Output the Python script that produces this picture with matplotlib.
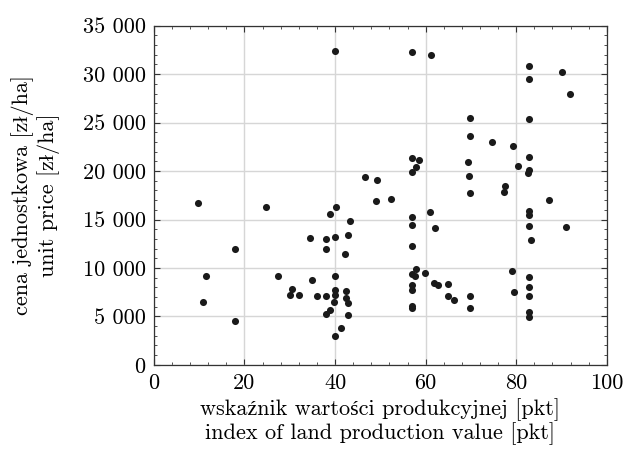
import matplotlib
matplotlib.use('Agg')
import matplotlib.pyplot as plt
from matplotlib.ticker import MultipleLocator, FuncFormatter

plt.rcParams['font.family'] = ['cmr10', 'Liberation Serif']
plt.rcParams['mathtext.fontset'] = 'cm'
plt.rcParams['axes.formatter.use_mathtext'] = True

# wskaźnik wartości produkcyjnej [pkt]
wskaznik = [40.0, 46.6, 49.3, 57.0, 61.1, 82.9, 90.1, 82.9, 91.9, 69.8,
            82.9, 69.8, 74.6, 79.2, 57.0, 58.5, 82.9, 69.4, 80.3, 57.9,
            57.0, 82.9, 82.5, 69.5, 77.5, 77.2, 69.8, 49.1, 52.3, 87.3,
            82.9, 82.9, 60.9, 57.0, 57.0, 62.0, 82.9, 90.9, 83.2, 57.0,
            57.9, 59.9, 57.0, 57.6, 79.0, 82.9, 61.9, 62.7, 65.0, 57.0,
            57.0, 82.9, 79.5, 65.0, 66.3, 69.8, 82.9, 57.0, 57.0, 69.8,
            82.9, 82.9, 9.8, 24.7, 40.2, 38.9, 43.2, 34.4, 38.0, 40.0,
            42.9, 38.0, 17.9, 42.3, 11.5, 27.4, 40.0, 34.9, 30.5, 30.0,
            32.1, 36.1, 38.0, 40.0, 40.0, 42.5, 42.5, 42.9, 39.7, 10.9,
            38.0, 38.9, 42.9, 17.9, 41.3, 40.0]

# cena jednostkowa [zł/ha]
cena = [32400, 19360, 19080, 32290, 31950, 30840, 30190, 29540, 27990, 25480,
        25410, 23660, 23000, 22590, 21390, 21150, 21490, 20910, 20500, 20390,
        19910, 20080, 19770, 19500, 18500, 17810, 17780, 16920, 17120, 17050,
        15920, 15500, 15780, 15270, 14440, 14100, 14340, 14240, 12900, 12240,
        9940, 9460, 9360, 9220, 9660, 9110, 8460, 8220, 8360, 8220,
        7740, 8050, 7500, 7090, 6740, 7090, 7090, 6090, 5910, 5850,
        5500, 4980, 16710, 16270, 16330, 15550, 14890, 13100, 13030, 13240,
        13380, 12000, 12000, 11450, 9210, 9210, 9210, 8730, 7840, 7190,
        7190, 7090, 7090, 7740, 7190, 7630, 6880, 6400, 6470, 6470,
        5230, 5640, 5130, 4540, 3820, 2960]

fig = plt.figure(figsize=(6.23, 4.51), dpi=100)
ax = fig.add_axes([0.247, 0.191, 0.727, 0.752])

ax.scatter(wskaznik, cena, s=26, color='#1a1a1a', zorder=3, linewidths=0)

ax.set_xlim(0, 100)
ax.set_ylim(0, 35000)
ax.xaxis.set_major_locator(MultipleLocator(20))
ax.xaxis.set_minor_locator(MultipleLocator(4))
ax.yaxis.set_major_locator(MultipleLocator(5000))
ax.yaxis.set_minor_locator(MultipleLocator(1000))


def fmt_tys(v, pos):
    v = int(round(v))
    if v == 0:
        return '0'
    return f'{v:,}'.replace(',', ' ')


ax.yaxis.set_major_formatter(FuncFormatter(fmt_tys))
ax.xaxis.set_major_formatter(FuncFormatter(lambda v, p: f'{int(v)}'))

ax.tick_params(which='both', direction='in', top=True, right=True,
               labelsize=16, color='#333333')
ax.tick_params(which='major', length=4, width=0.8, pad=6)
ax.tick_params(which='minor', length=2, width=0.6)
ax.grid(True, which='major', color='#d6d6d6', linewidth=1.0, zorder=0)
ax.set_axisbelow(True)
for s in ax.spines.values():
    s.set_color('#333333')
    s.set_linewidth(0.9)

ax.set_xlabel('wskaźnik wartości produkcyjnej [pkt]\nindex of land production value [pkt]',
              fontsize=16, labelpad=4, linespacing=1.1)
ax.set_ylabel('cena jednostkowa [zł/ha]\nunit price [zł/ha]',
              fontsize=16, labelpad=16, linespacing=1.2)

fig.savefig('out.png', dpi=100)
